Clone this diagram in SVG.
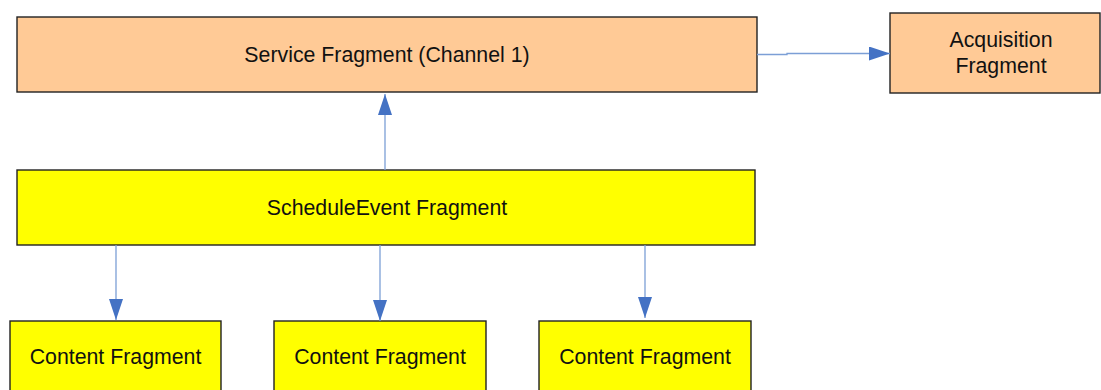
<svg xmlns="http://www.w3.org/2000/svg" width="1101" height="390" viewBox="0 0 1101 390">
<style>
.box{stroke:#222;stroke-width:1.4}
.orange{fill:#FFCA96}
.yellow{fill:#FFFF00}
.lbl{font-family:"Liberation Sans",Arial,sans-serif;font-size:21.3px;fill:#111;text-anchor:middle}
.conn{fill:none;stroke:#7C9FD6;stroke-width:1.3}
</style>
<defs>
<marker id="ah" markerUnits="userSpaceOnUse" markerWidth="22" markerHeight="16" refX="21" refY="7" orient="auto">
<path d="M0,0 L21,7 L0,14 Z" fill="#4472C4"/>
</marker>
</defs>
<rect width="1101" height="390" fill="#ffffff"/>
<g id="service">
<rect class="box orange" x="17" y="17" width="740" height="75"/>
<text class="lbl" x="387" y="62">Service Fragment (Channel 1)</text>
</g>
<g id="acquisition">
<rect class="box orange" x="890" y="13" width="210" height="80"/>
<text class="lbl" x="1001" y="47">Acquisition</text>
<text class="lbl" x="1001" y="73">Fragment</text>
</g>
<g id="schedule">
<rect class="box yellow" x="17" y="170" width="738" height="75"/>
<text class="lbl" x="387" y="215">ScheduleEvent Fragment</text>
</g>
<g id="content1">
<rect class="box yellow" x="10" y="321" width="211" height="80"/>
<text class="lbl" x="115.5" y="364">Content Fragment</text>
</g>
<g id="content2">
<rect class="box yellow" x="274" y="321" width="212" height="80"/>
<text class="lbl" x="380" y="364">Content Fragment</text>
</g>
<g id="content3">
<rect class="box yellow" x="539" y="321" width="212" height="80"/>
<text class="lbl" x="645" y="364">Content Fragment</text>
</g>
<g id="connectors">
<path class="conn" d="M757 54.5 H787 V53.5 H890" marker-end="url(#ah)"/>
<path class="conn" d="M385 170 V94" marker-end="url(#ah)"/>
<path class="conn" d="M116 245 V320" marker-end="url(#ah)"/>
<path class="conn" d="M380 245 V321" marker-end="url(#ah)"/>
<path class="conn" d="M645 245 V318" marker-end="url(#ah)"/>
</g>
</svg>
